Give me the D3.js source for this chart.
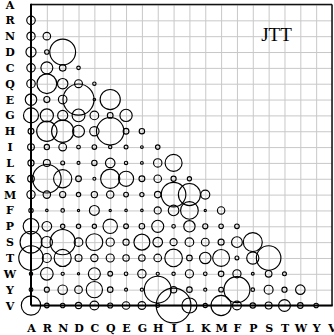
<!DOCTYPE html>
<html>
<head>
<meta charset="utf-8">
<script src="https://cdn.jsdelivr.net/npm/d3@7"></script>
<style>
  body { margin: 0; background: #fff; }
  .grid line { stroke: #c8c8c8; stroke-width: 1; }
  .grid path { display: none; }
  .lbl text { font-family: "DejaVu Serif", serif; font-weight: bold; font-size: 11px; fill: #000; }
  .lbl path { display: none; }
</style>
</head>
<body>
<div id="chart"></div>
<script>
// amino acid order on both axes
var aminoAcids = ['A', 'R', 'N', 'D', 'C', 'Q', 'E', 'G', 'H', 'I', 'L', 'K', 'M', 'F', 'P', 'S', 'T', 'W', 'Y', 'V'];

// lower triangle of exchangeabilities, row i holds values vs aminoAcids[0..i-1]
var rowR = [58];
var rowN = [54, 45];
var rowD = [81, 16, 528];
var rowC = [56, 113, 34, 10];
var rowQ = [57, 310, 86, 49, 9];
var rowE = [105, 29, 58, 767, 5, 323];
var rowG = [179, 137, 81, 130, 59, 26, 119];
var rowH = [27, 328, 391, 112, 69, 597, 26, 23];
var rowI = [36, 22, 47, 11, 17, 9, 12, 6, 16];
var rowL = [30, 38, 12, 7, 23, 72, 9, 6, 56, 229];
var rowK = [35, 646, 263, 26, 7, 292, 181, 27, 45, 21, 14];
var rowM = [54, 44, 30, 15, 31, 43, 18, 14, 33, 479, 388, 65];
var rowF = [15, 5, 10, 4, 78, 4, 5, 5, 40, 89, 248, 4, 43];
var rowP = [194, 74, 15, 15, 14, 164, 18, 24, 115, 10, 102, 21, 16, 17];
var rowS = [378, 101, 503, 59, 223, 53, 30, 201, 73, 40, 59, 47, 29, 92, 285];
var rowT = [475, 64, 232, 38, 42, 51, 32, 33, 46, 245, 25, 103, 226, 12, 118, 477];
var rowW = [9, 126, 8, 4, 115, 18, 10, 55, 8, 9, 52, 10, 24, 53, 6, 35, 12];
var rowY = [11, 20, 70, 46, 209, 24, 7, 8, 573, 32, 24, 8, 18, 536, 10, 63, 21, 71];
var rowV = [298, 17, 16, 31, 62, 20, 45, 47, 11, 961, 180, 14, 323, 62, 23, 38, 112, 25, 16];

var modelName = 'JTT';

var rows = [[], rowR, rowN, rowD, rowC, rowQ, rowE, rowG, rowH, rowI, rowL, rowK, rowM, rowF, rowP, rowS, rowT, rowW, rowY, rowV];

var width = 334, height = 335;
var padding = { top: 4.5, right: 2, bottom: 29.5, left: 31 };

var svg = d3.select('#chart').append('svg')
  .attr('width', width)
  .attr('height', height);

var xscale = d3.scalePoint().domain(aminoAcids).range([padding.left, width - padding.right]);
var yscale = d3.scalePoint().domain(aminoAcids).range([padding.top, height - padding.bottom]);
var rscale = d3.scaleSqrt().domain([0, 961]).range([0, 17.4]);

var x0 = padding.left, x1 = width - padding.right;
var y0 = padding.top, y1 = height - padding.bottom;

// gridlines
svg.append('g')
  .attr('class', 'grid')
  .attr('transform', 'translate(0,' + y1 + ')')
  .call(d3.axisBottom(xscale).tickSize(-(y1 - y0)).tickFormat(''));
svg.append('g')
  .attr('class', 'grid')
  .attr('transform', 'translate(' + x0 + ',0)')
  .call(d3.axisLeft(yscale).tickSize(-(x1 - x0)).tickFormat(''));

// flatten to cells
var cells = [];
rows.forEach(function (r, i) {
  r.forEach(function (v, j) {
    cells.push({ row: aminoAcids[i], col: aminoAcids[j], value: v });
  });
});

svg.append('g').selectAll('circle')
  .data(cells)
  .enter().append('circle')
  .attr('cx', function (d) { return xscale(d.col); })
  .attr('cy', function (d) { return yscale(d.row); })
  .attr('r', function (d) { return rscale(d.value); })
  .attr('fill', 'none')
  .attr('stroke', '#000')
  .attr('stroke-width', 1.15);

// frame
svg.append('line').attr('x1', x0).attr('x2', x1).attr('y1', y0).attr('y2', y0)
  .attr('stroke', '#111').attr('stroke-width', 1.5);
svg.append('line').attr('x1', x1).attr('x2', x1).attr('y1', y0).attr('y2', y1)
  .attr('stroke', '#111').attr('stroke-width', 1.5);
svg.append('line').attr('x1', x0).attr('x2', x0).attr('y1', y0 - 0.75).attr('y2', y1)
  .attr('stroke', '#000').attr('stroke-width', 2);
svg.append('line').attr('x1', x0).attr('x2', x1 + 0.75).attr('y1', y1).attr('y2', y1)
  .attr('stroke', '#000').attr('stroke-width', 2);

// labels
svg.append('g')
  .attr('class', 'lbl')
  .attr('transform', 'translate(' + x0 + ',0)')
  .call(d3.axisLeft(yscale).tickSize(0).tickPadding(17))
  .selectAll('text').attr('text-anchor', 'middle').attr('x', -21);

svg.append('g')
  .attr('class', 'lbl')
  .attr('transform', 'translate(0,' + y1 + ')')
  .call(d3.axisBottom(xscale).tickSize(0).tickPadding(19));

svg.append('text')
  .attr('x', 276.5)
  .attr('y', 41)
  .attr('text-anchor', 'middle')
  .style('font-family', '"Liberation Serif", "Times New Roman", serif')
  .style('font-size', '19px')
  .text(modelName);
</script>
</body>
</html>
